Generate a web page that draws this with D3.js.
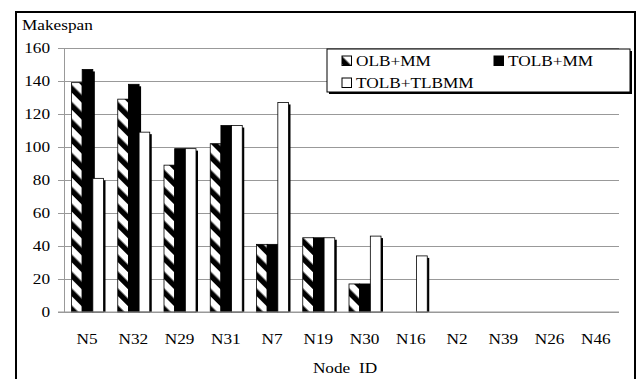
<!DOCTYPE html>
<html>
<head>
<meta charset="utf-8">
<script src="https://d3js.org/d3.v7.min.js"></script>
<style>
  body { margin: 0; background: #fff; }
  svg { display: block; }
</style>
</head>
<body>
<div id="chart"></div>
<script>
var nodes = ["N5", "N32", "N29", "N31", "N7", "N19", "N30", "N16", "N2", "N39", "N26", "N46"];
var seriesNames = ["OLB+MM", "TOLB+MM", "TOLB+TLBMM"];
var olbMM = [139, 129, 89, 102, 41, 45, 17, 0, 0, 0, 0, 0];
var tolbMM = [147, 138, 99, 113, 41, 45, 17, 0, 0, 0, 0, 0];
var tolbTlbmm = [81, 109, 99, 113, 127, 45, 46, 34, 0, 0, 0, 0];
var yTicks = [0, 20, 40, 60, 80, 100, 120, 140, 160];

var width = 637, height = 379;
var plotLeft = 64, plotRight = 619, plotTop = 48, plotBottom = 312;
var fs = 15, sx = 1.15; // text looks stretched sideways in the original

var data = nodes.map(function(n, i) {
	return {node: n, values: [olbMM[i], tolbMM[i], tolbTlbmm[i]]};
});

var svg = d3.select("#chart").append("svg")
		.attr("width", width)
		.attr("height", height);

var defs = svg.append("defs");
var pat = defs.append("pattern")
		.attr("id", "stripes")
		.attr("patternUnits", "userSpaceOnUse")
		.attr("width", 12)
		.attr("height", 12)
		.attr("patternTransform", "rotate(-45)");
pat.append("rect").attr("width", 12).attr("height", 12).attr("fill", "#fff");
pat.append("rect").attr("width", 5.5).attr("height", 12).attr("fill", "#000");

var fills = ["url(#stripes)", "#000", "#fff"];

// outer frame
svg.append("rect")
		.attr("x", 16).attr("y", 12)
		.attr("width", 619).attr("height", 420)
		.attr("fill", "none")
		.attr("stroke", "#000")
		.attr("stroke-width", 2);

var x0 = d3.scaleBand().domain(nodes).range([plotLeft, plotRight]);
var x1 = d3.scaleBand().domain(d3.range(3)).range([7.5, 39.5]);
var y = d3.scaleLinear().domain([0, 160]).range([plotBottom, plotTop]);

function stretched(sel, px, py) {
	sel.attr("x", 0).attr("y", 0)
		.attr("transform", "translate(" + px + "," + py + ") scale(" + sx + ",1)")
		.style("font-family", "'Liberation Serif'")
		.style("font-size", fs + "px")
		.style("fill", "#000");
	return sel;
}

// gridlines + y axis
var yAxis = d3.axisLeft(y)
		.tickValues(yTicks)
		.tickSize(-(plotRight - plotLeft))
		.tickSizeOuter(0)
		.tickFormat("");
svg.append("g")
		.attr("transform", "translate(" + plotLeft + ",0)")
		.call(yAxis)
		.call(function(g) {
			g.select(".domain").attr("stroke", "#999");
			g.selectAll(".tick line").attr("stroke", "#999").attr("x1", -6);
		});

yTicks.forEach(function(t) {
	stretched(svg.append("text"), 50, y(t) + 5)
			.attr("text-anchor", "end")
			.text(t);
});

// bars
function barData(d) {
	return d.values.map(function(v, j) { return {v: v, j: j}; })
		.filter(function(e) { return e.v > 0; });
}

var groups = svg.selectAll(".grp")
		.data(data)
	.enter().append("g")
		.attr("class", "grp")
		.attr("transform", function(d) { return "translate(" + x0(d.node) + ",0)"; });

groups.selectAll(".shadow")
		.data(barData)
	.enter().append("rect")
		.attr("class", "shadow")
		.attr("x", function(e) { return x1(e.j) + 2; })
		.attr("y", function(e) { return y(e.v) + 2; })
		.attr("width", x1.bandwidth())
		.attr("height", function(e) { return plotBottom - y(e.v) - 2; })
		.attr("fill", "#000");

groups.selectAll(".bar")
		.data(barData)
	.enter().append("rect")
		.attr("class", "bar")
		.attr("x", function(e) { return x1(e.j); })
		.attr("y", function(e) { return y(e.v); })
		.attr("width", x1.bandwidth())
		.attr("height", function(e) { return plotBottom - y(e.v); })
		.attr("fill", function(e) { return fills[e.j]; })
		.attr("stroke", "#000")
		.attr("stroke-width", 0.8);

// x axis line
svg.append("line")
		.attr("x1", plotLeft - 6).attr("x2", plotRight)
		.attr("y1", plotBottom).attr("y2", plotBottom)
		.attr("stroke", "#999");

nodes.forEach(function(n) {
	stretched(svg.append("text"), x0(n) + x0.bandwidth() / 2, 344)
			.attr("text-anchor", "middle")
			.text(n);
});

stretched(svg.append("text"), 345, 373)
		.attr("text-anchor", "middle")
		.style("white-space", "pre")
		.text("Node  ID");

stretched(svg.append("text"), 22, 30)
		.text("Makespan");

// legend
var lg = svg.append("g").attr("transform", "translate(327,49)");
lg.append("rect").attr("x", 2).attr("y", 2).attr("width", 303).attr("height", 43).attr("fill", "#000");
lg.append("rect").attr("width", 303).attr("height", 43)
		.attr("fill", "#fff").attr("stroke", "#000").attr("stroke-width", 1);

var legendPos = [[15, 7], [167, 7], [15, 29]];
seriesNames.forEach(function(s, j) {
	var p = legendPos[j];
	lg.append("rect")
			.attr("x", p[0]).attr("y", p[1])
			.attr("width", 9.5).attr("height", 9.5)
			.attr("fill", fills[j])
			.attr("stroke", "#000")
			.attr("stroke-width", 1);
	stretched(lg.append("text"), p[0] + 14, p[1] + 10)
			.text(s);
});
</script>
</body>
</html>
